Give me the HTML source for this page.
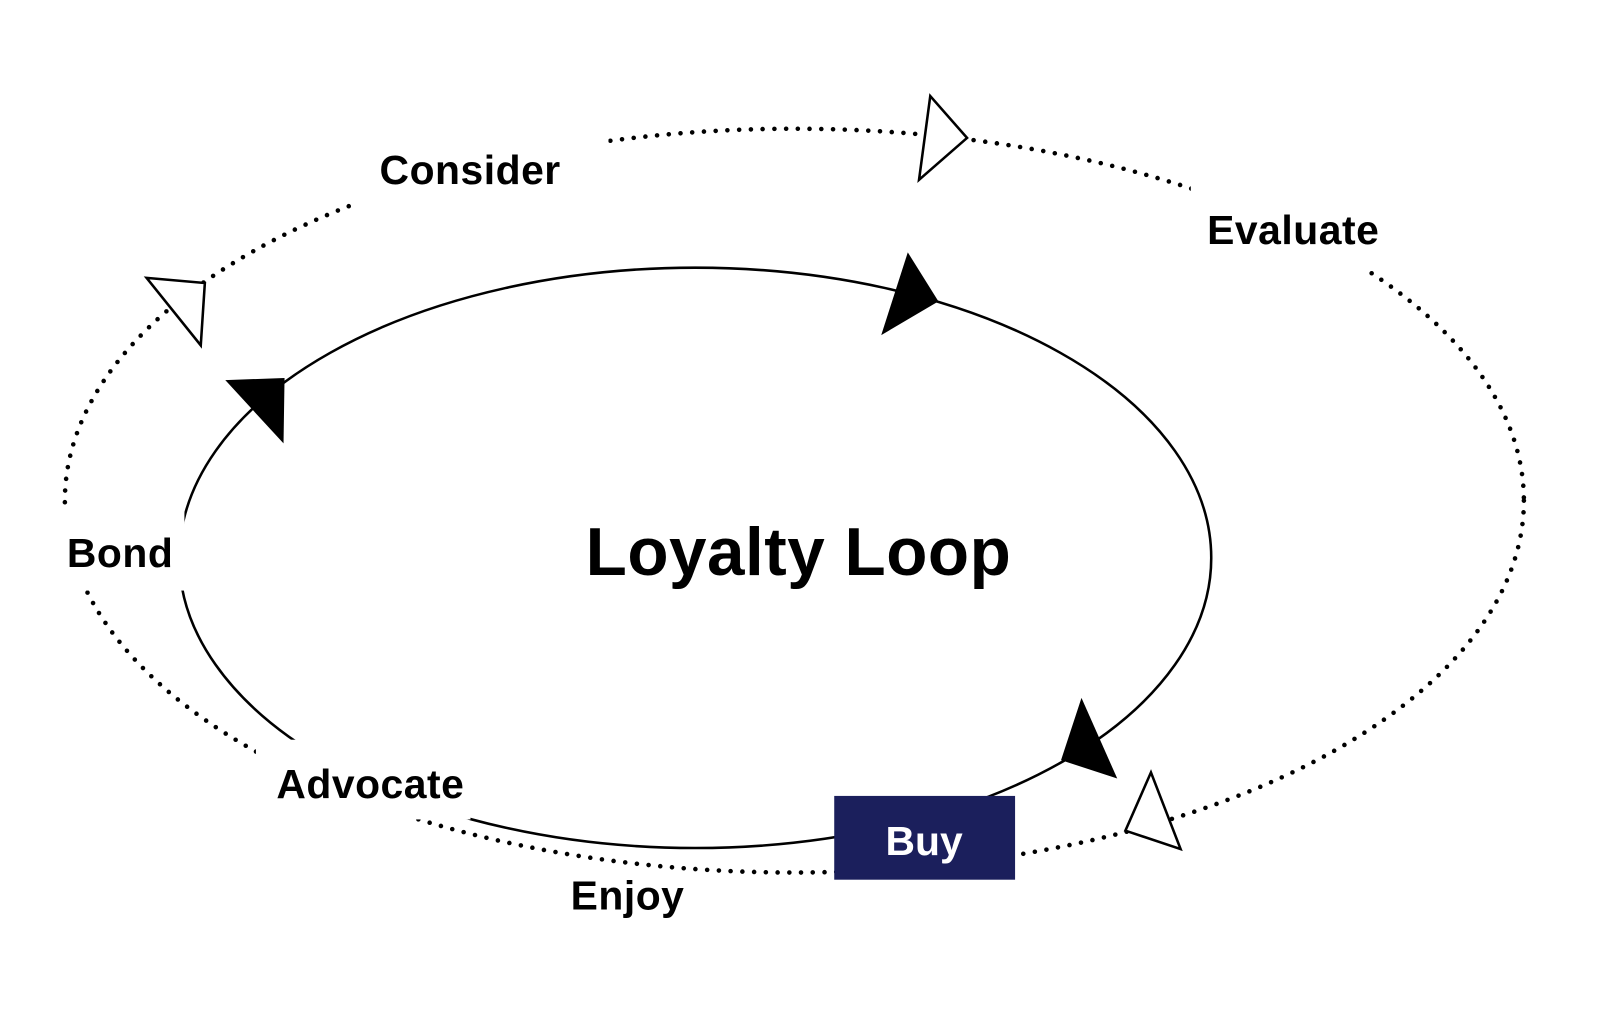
<!DOCTYPE html>
<html><head><meta charset="utf-8"><style>
html,body{margin:0;padding:0;background:#fff;}
svg{display:block}
text{font-family:"Liberation Sans",sans-serif;font-weight:bold;fill:#000}
</style></head><body>
<svg width="1600" height="1035" viewBox="0 0 1565 1013" xmlns="http://www.w3.org/2000/svg">
<rect width="1565" height="1013" fill="#fff"/>
<ellipse cx="777" cy="490" rx="714" ry="364" fill="none" stroke="#000" stroke-width="4.5" stroke-linecap="round" stroke-dasharray="0 11.5"/>
<ellipse cx="680" cy="546" rx="505" ry="284" fill="none" stroke="#000" stroke-width="2.5"/>
<rect x="345" y="118" width="250" height="84" fill="#fff"/>
<rect x="1165" y="182" width="175" height="84" fill="#fff"/>
<rect x="50" y="499" width="130" height="79" fill="#fff"/>
<rect x="250" y="724" width="210" height="78" fill="#fff"/>
<rect x="816" y="779" width="177" height="82" fill="#1b1f5c"/>
<polygon points="888,247 918,295 862,328" fill="#000"/>
<polygon points="220,372 278,370 277,434" fill="#000"/>
<polygon points="1058,683 1093,762 1038,744" fill="#000"/>
<polygon points="910,94 946,135 899,176" fill="#fff" stroke="#000" stroke-width="2.5"/>
<polygon points="143,272 200,277 196,338" fill="#fff" stroke="#000" stroke-width="2.5"/>
<polygon points="1126,756 1155,831 1101,813" fill="#fff" stroke="#000" stroke-width="2.5"/>
<text x="371" y="180" font-size="40" letter-spacing="0.5">Consider</text>
<text x="1181" y="239" font-size="40" letter-spacing="0.5">Evaluate</text>
<text x="65" y="555" font-size="40" letter-spacing="0.5">Bond</text>
<text x="270" y="781" font-size="40" letter-spacing="0.5">Advocate</text>
<text x="558" y="890" font-size="40" letter-spacing="0.5">Enjoy</text>
<text x="904" y="837" font-size="40" text-anchor="middle" style="fill:#fff">Buy</text>
<text x="781" y="563" font-size="66" text-anchor="middle" letter-spacing="0.5">Loyalty Loop</text>
</svg>
</body></html>
